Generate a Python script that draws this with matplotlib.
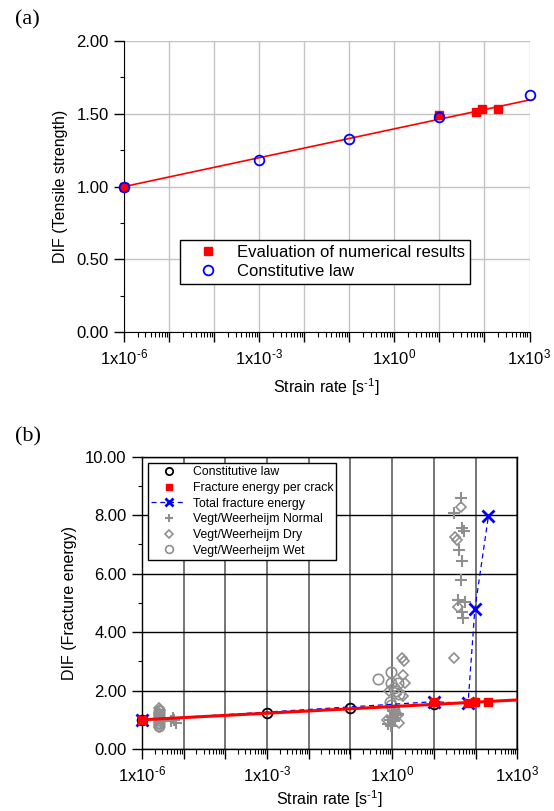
import numpy as np
import matplotlib
matplotlib.use('Agg')
import matplotlib.pyplot as plt
from matplotlib import ticker

plt.rcParams['font.family'] = ['Liberation Sans', 'DejaVu Sans']
plt.rcParams['mathtext.fontset'] = 'custom'
plt.rcParams['mathtext.rm'] = 'Liberation Sans'
plt.rcParams['mathtext.it'] = 'Liberation Sans:italic'
plt.rcParams['mathtext.bf'] = 'Liberation Sans:bold'

# ---- panel (a): tensile strength ----
rate_a_law = [1e-6, 1e-3, 1e-1, 1e1, 1e3]
dif_a_law = [1.00, 1.18, 1.33, 1.48, 1.63]
rate_a_num = [1e-6, 1e1, 65, 88, 200]
dif_a_num = [1.00, 1.49, 1.51, 1.535, 1.535]
rate_a_fit = [1e-6, 1e3]
dif_a_fit = [1.00, 1.595]

# ---- panel (b): fracture energy ----
rate_b_law = [1e-6, 1e-3, 1e-1, 1e1]
dif_b_law = [1.00, 1.22, 1.39, 1.55]
rate_b_crack = [1e-6, 1e1, 66, 95, 204]
dif_b_crack = [1.00, 1.60, 1.58, 1.62, 1.62]
rate_b_total = [1e-6, 1e1, 66, 96, 204]
dif_b_total = [1.00, 1.62, 1.56, 4.78, 7.98]
rate_b_fit = [1e-6, 1e3]
dif_b_fit = [1.00, 1.68]

rate_normal = [5.0e-6, 6.0e-6, 6.5e-6, 5.5e-6,
               0.8, 0.9, 1.0, 1.1, 1.2, 1.3, 0.95, 1.05, 1.4, 1.15,
               44, 30.5, 48, 53, 40, 48, 44, 37, 55, 48, 51]
dif_normal = [0.95, 1.00, 0.90, 1.05,
              0.85, 1.00, 1.10, 0.95, 1.25, 1.15, 0.80, 1.30, 1.20, 1.05,
              8.58, 8.06, 7.55, 7.47, 6.81, 6.44, 5.80, 5.10, 5.04, 4.70, 4.47]

rate_dry = [2.5e-6, 2.6e-6, 2.7e-6, 2.6e-6, 2.5e-6, 2.6e-6, 2.7e-6, 2.6e-6,
            1.73, 1.9, 1.8, 2.0, 1.8, 0.75, 1.45, 0.85, 1.37,
            44, 33, 35.5, 38, 30.5]
dif_dry = [0.75, 0.85, 0.95, 1.05, 1.15, 1.25, 1.35, 1.42,
           3.11, 3.00, 2.52, 2.25, 1.82, 1.00, 0.88, 1.97, 1.17,
           8.29, 7.26, 7.15, 4.87, 3.10]

rate_wet = [2.6e-6, 2.6e-6, 2.6e-6, 2.6e-6, 2.6e-6, 2.6e-6,
            0.46, 0.96, 0.96, 1.1, 1.37, 1.22, 1.45, 0.87, 0.96, 1.1]
dif_wet = [0.80, 0.90, 1.00, 1.10, 1.20, 1.30,
           2.40, 2.65, 2.25, 2.08, 2.25, 1.97, 1.89, 1.62, 1.49, 1.34]

GREY = '#8f8f8f'


def decade_label(x, pos):
    e = int(round(np.log10(x)))
    if e % 3 != 0:
        return ''
    if e < 0:
        return r'1x10$^{\text{-}\mathregular{%d}}$' % (-e)
    return r'1x10$^{\mathregular{%d}}$' % e


def setup_log_x(ax, fs):
    ax.set_xscale('log')
    ax.set_xlim(1e-6, 1e3)
    ax.xaxis.set_major_locator(ticker.LogLocator(base=10, numticks=20))
    ax.xaxis.set_minor_locator(ticker.LogLocator(base=10, subs=np.arange(2, 10), numticks=20))
    ax.xaxis.set_major_formatter(ticker.FuncFormatter(decade_label))
    ax.xaxis.set_minor_formatter(ticker.NullFormatter())
    ax.tick_params(axis='x', which='major', direction='out', length=7.2, width=1, pad=4, labelsize=fs)
    ax.tick_params(axis='x', which='minor', direction='out', length=3.4, width=0.8)
    ax.tick_params(axis='y', which='major', direction='out', length=7.5, width=1, pad=3.5, labelsize=fs)
    ax.tick_params(axis='y', which='minor', direction='out', length=3.2, width=0.8)
    ax.yaxis.set_major_formatter(ticker.FormatStrFormatter('%.2f'))


fig = plt.figure(figsize=(5.54, 8.11), dpi=100)

# (a)
ax1 = fig.add_axes([0.2238, 0.5903, 0.732, 0.3592])
setup_log_x(ax1, 12)
ax1.set_ylim(0, 2)
ax1.yaxis.set_major_locator(ticker.MultipleLocator(0.5))
ax1.yaxis.set_minor_locator(ticker.MultipleLocator(0.25))
ax1.grid(True, which='major', color='#c4c4c4', lw=1)
ax1.set_axisbelow(True)
for s in ('top', 'right'):
    ax1.spines[s].set_visible(False)
ax1.plot(rate_a_fit, dif_a_fit, color='red', lw=1.2, zorder=3)
ax1.plot(rate_a_num, dif_a_num, 's', color='red', ms=6, zorder=4, clip_on=False,
         label='Evaluation of numerical results')
ax1.plot(rate_a_law, dif_a_law, 'o', mfc='none', mec='blue', mew=1.3, ms=7, zorder=5,
         clip_on=False, label='Constitutive law')
ax1.set_xlabel(r'Strain rate [s$^{\text{-}\mathregular{1}}$]', fontsize=11.5, labelpad=6)
ax1.set_ylabel('DIF (Tensile strength)', fontsize=11.5, labelpad=6)
leg1 = ax1.legend(loc='lower left', bbox_to_anchor=(0.138, 0.166), fontsize=12,
                  frameon=True, fancybox=False, edgecolor='black', framealpha=1,
                  borderpad=0.3, handlelength=2.8, handletextpad=0.35, labelspacing=0.25,
                  borderaxespad=0)
leg1.get_frame().set_linewidth(1.0)
fig.text(0.027, 0.975, '(a)', fontsize=16, family='Liberation Serif', va='center', ha='left')

# (b)
ax2 = fig.add_axes([0.2563, 0.0764, 0.6774, 0.3604])
setup_log_x(ax2, 12)
ax2.set_ylim(0, 10)
ax2.yaxis.set_major_locator(ticker.MultipleLocator(2))
ax2.yaxis.set_minor_locator(ticker.MultipleLocator(1))
ax2.xaxis.grid(True, which='major', color='#505050', lw=1.1)
ax2.yaxis.grid(True, which='major', color='black', lw=1.0)
ax2.set_axisbelow(True)
for s in ax2.spines.values():
    s.set_linewidth(1.0)

ax2.plot(rate_normal, dif_normal, '+', color=GREY, ms=8, mew=1.5, zorder=2,
         label='Vegt/Weerheijm Normal')
ax2.plot(rate_dry, dif_dry, 'D', mfc='none', mec=GREY, ms=5.5, mew=1.2, zorder=2,
         label='Vegt/Weerheijm Dry')
ax2.plot(rate_wet, dif_wet, 'o', mfc='none', mec=GREY, ms=7.5, mew=1.2, zorder=2,
         label='Vegt/Weerheijm Wet')
ax2.plot(rate_b_law, dif_b_law, 'o', mfc='none', mec='black', ms=7, mew=1.3, zorder=3,
         clip_on=False, label='Constitutive law')
ax2.plot(rate_b_total, dif_b_total, '--x', color='blue', lw=0.9, ms=8, mew=2, zorder=4,
         dashes=(4, 3), clip_on=False, label='Total fracture energy')
ax2.plot(rate_b_fit, dif_b_fit, color='red', lw=2.2, zorder=5)
ax2.plot(rate_b_crack, dif_b_crack, 's', color='red', ms=6, zorder=6, clip_on=False,
         label='Fracture energy per crack')

handles, labels = ax2.get_legend_handles_labels()
order = ['Constitutive law', 'Fracture energy per crack', 'Total fracture energy',
         'Vegt/Weerheijm Normal', 'Vegt/Weerheijm Dry', 'Vegt/Weerheijm Wet']
hmap = dict(zip(labels, handles))
leg2 = ax2.legend([hmap[k] for k in order], order, loc='upper left',
                  bbox_to_anchor=(0.016, 0.978), fontsize=8.8, frameon=True,
                  fancybox=False, edgecolor='black', framealpha=1,
                  borderpad=0.25, handlelength=2.9, handletextpad=0.5,
                  labelspacing=0.3, borderaxespad=0, markerscale=0.75)
leg2.get_frame().set_linewidth(1.0)
ax2.set_xlabel(r'Strain rate [s$^{\text{-}\mathregular{1}}$]', fontsize=11.5, labelpad=3)
ax2.set_ylabel('DIF (Fracture energy)', fontsize=11.5, labelpad=6)
fig.text(0.027, 0.461, '(b)', fontsize=16, family='Liberation Serif', va='center', ha='left')

fig.savefig('out.png', dpi=100)
